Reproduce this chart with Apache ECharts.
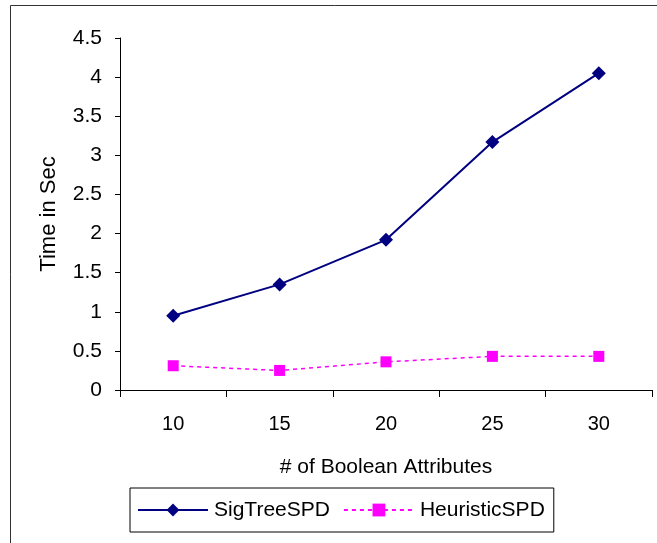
<!DOCTYPE html>
<html><head><meta charset="utf-8">
<script src="https://cdn.jsdelivr.net/npm/echarts@6/dist/echarts.min.js"></script>
<style>html,body{margin:0;padding:0;background:#fff}#c{width:657px;height:543px}</style>
</head><body><div id="c"></div>
<script>
const categories = ['10', '15', '20', '25', '30'];
const sigTreeSPD = [0.95, 1.35, 1.92, 3.17, 4.05];
const heuristicSPD = [0.31, 0.25, 0.36, 0.43, 0.43];
const yTicks = [0, 0.5, 1, 1.5, 2, 2.5, 3, 3.5, 4, 4.5];

const FONT = 'Liberation Sans, Arial, sans-serif';
const chart = echarts.init(document.getElementById('c'), null, {renderer: 'canvas'});
chart.setOption({
  backgroundColor: '#fff',
  animation: false,
  textStyle: {fontFamily: FONT},
  graphic: [{
    type: 'rect', shape: {x: 10.5, y: 5.5, width: 700, height: 600},
    style: {fill: 'none', stroke: '#333', lineWidth: 1}, silent: true, z: -1
  }],
  grid: {left: 120, right: 5, top: 38, bottom: 153, containLabel: false},
  xAxis: {
    type: 'category', data: categories, boundaryGap: true,
    axisLine: {lineStyle: {color: '#000', width: 1}},
    axisTick: {show: true, inside: false, length: 7, alignWithLabel: false, lineStyle: {color: '#000'}},
    axisLabel: {color: '#000', fontSize: 20, margin: 24, fontFamily: FONT},
    splitLine: {show: false},
    name: '# of Boolean Attributes', nameLocation: 'middle', nameGap: 67,
    nameTextStyle: {color: '#000', fontSize: 21, fontFamily: FONT}
  },
  yAxis: {
    type: 'value', min: yTicks[0], max: yTicks[yTicks.length - 1], interval: 0.5,
    axisLine: {show: true, lineStyle: {color: '#000', width: 1}},
    axisTick: {show: true, inside: false, length: 5, lineStyle: {color: '#000'}},
    axisLabel: {color: '#000', fontSize: 21, margin: 18, fontFamily: FONT},
    splitLine: {show: false},
    name: 'Time in Sec', nameLocation: 'middle', nameGap: 60, nameRotate: 90,
    nameTextStyle: {color: '#000', fontSize: 22, fontFamily: FONT}
  },
  legend: {
    left: 130, top: 488,
    borderColor: '#000', borderWidth: 1, padding: [11, 9, 11, 7],
    itemWidth: 70, itemHeight: 16, itemGap: 13,
    textStyle: {color: '#000', fontSize: 21, lineHeight: 22, fontFamily: FONT, padding: [0, 0, 0, 1]},
    data: ['SigTreeSPD', 'HeuristicSPD']
  },
  series: [
    {
      name: 'SigTreeSPD', type: 'line', data: sigTreeSPD,
      symbol: 'diamond', symbolSize: 14,
      lineStyle: {color: '#000080', width: 2},
      itemStyle: {color: '#000080'}
    },
    {
      name: 'HeuristicSPD', type: 'line', data: heuristicSPD,
      symbol: 'rect', symbolSize: 11,
      lineStyle: {color: '#ff00ff', width: 1.5, type: [4, 4]},
      itemStyle: {color: '#ff00ff'}
    }
  ]
});
</script></body></html>
